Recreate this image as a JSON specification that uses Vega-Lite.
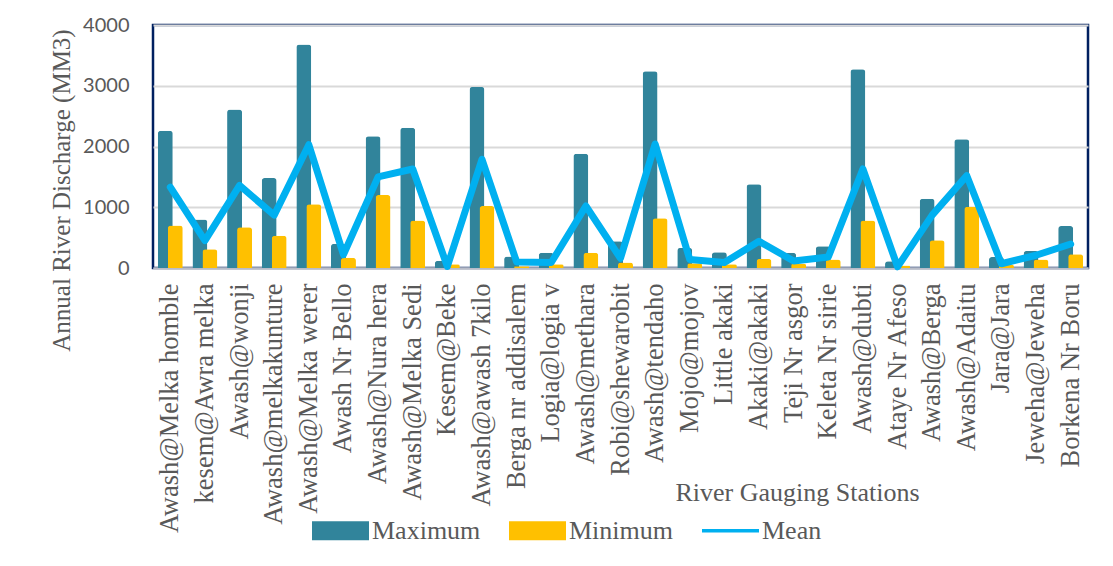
{
  "$schema": "https://vega.github.io/schema/vega-lite/v6.json",
  "autosize": "none",
  "width": 935,
  "height": 243,
  "padding": {"left": 153, "top": 25, "right": 25, "bottom": 298},
  "background": "white",
  "data": {
    "values": [
      {"station": "Awash@Melka homble", "max": 2260, "min": 700, "mean": 1330},
      {"station": "kesem@Awra melka", "max": 800, "min": 310, "mean": 450},
      {"station": "Awash@wonji", "max": 2610, "min": 670, "mean": 1360},
      {"station": "Awash@melkakunture", "max": 1480, "min": 530, "mean": 870},
      {"station": "Awash@Melka werer", "max": 3680, "min": 1050, "mean": 2030},
      {"station": "Awash Nr Bello", "max": 400, "min": 170, "mean": 220},
      {"station": "Awash@Nura hera", "max": 2170, "min": 1200, "mean": 1500},
      {"station": "Awash@Melka Sedi", "max": 2310, "min": 780, "mean": 1630},
      {"station": "Kesem@Beke", "max": 120, "min": 60, "mean": 25},
      {"station": "Awash@awash 7kilo", "max": 2980, "min": 1020, "mean": 1790},
      {"station": "Berga nr addisalem", "max": 190, "min": 30, "mean": 100},
      {"station": "Logia@logia v", "max": 250, "min": 60, "mean": 90},
      {"station": "Awash@methara", "max": 1880, "min": 250, "mean": 1020},
      {"station": "Robi@shewarobit", "max": 440, "min": 90, "mean": 160},
      {"station": "Awash@tendaho", "max": 3240, "min": 820, "mean": 2040},
      {"station": "Mojo@mojov", "max": 330, "min": 80, "mean": 140},
      {"station": "Little akaki", "max": 260, "min": 60, "mean": 90},
      {"station": "Akaki@akaki", "max": 1380, "min": 150, "mean": 440},
      {"station": "Teji Nr asgor", "max": 250, "min": 70, "mean": 115},
      {"station": "Keleta Nr sirie", "max": 360, "min": 140, "mean": 180},
      {"station": "Awash@dubti", "max": 3270, "min": 780, "mean": 1630},
      {"station": "Ataye Nr Afeso", "max": 110, "min": 40, "mean": 20},
      {"station": "Awash@Berga", "max": 1140, "min": 457, "mean": 870},
      {"station": "Awash@Adaitu", "max": 2120, "min": 1010, "mean": 1520},
      {"station": "Jara@Jara", "max": 180, "min": 50, "mean": 70},
      {"station": "Jeweha@Jeweha", "max": 280, "min": 140, "mean": 210},
      {"station": "Borkena Nr Boru", "max": 690, "min": 225, "mean": 395}
    ]
  },
  "encoding": {
    "x": {
      "field": "station",
      "type": "nominal",
      "sort": null,
      "scale": {"paddingInner": 0, "paddingOuter": 0},
      "axis": {
        "title": "River Gauging Stations",
        "titleFont": "Liberation Serif",
        "titleFontSize": 26,
        "titleFontWeight": "normal",
        "titleColor": "#595959",
        "titleX": 644,
        "titleY": 224,
        "titleAlign": "center",
        "titleBaseline": "middle",
        "labelAngle": -90,
        "labelAlign": "right",
        "labelBaseline": "middle",
        "labelFont": "Liberation Serif",
        "labelFontSize": 26.5,
        "labelColor": "#595959",
        "labelPadding": 15,
        "labelLimit": 0,
        "ticks": false,
        "domainColor": "#B8BCC8",
        "domainWidth": 2,
        "grid": false
      }
    },
    "color": {
      "datum": "Maximum",
      "scale": {
        "domain": ["Maximum", "Minimum", "Mean"],
        "range": ["#31849B", "#FFC000", "#00B0F0"]
      },
      "legend": {
        "title": null,
        "orient": "none",
        "direction": "horizontal",
        "legendX": 159,
        "legendY": 477,
        "symbolSize": 3249,
        "symbolStrokeWidth": 0,
        "labelFont": "Liberation Serif",
        "labelFontSize": 26,
        "labelColor": "#595959",
        "labelOffset": 3,
        "columnPadding": 28,
        "labelLimit": 0,
        "encode": {
          "symbols": {
            "update": {
              "shape": {"signal": "datum.value === 'Mean' ? 'M-1,-0.06H1V0.06H-1Z' : 'M-1,-0.33H1V0.33H-1Z'"},
              "fill": {"signal": "datum.value === 'Mean' ? '#00B0F0' : datum.value === 'Minimum' ? '#FFC000' : '#31849B'"},
              "stroke": {"value": "transparent"},
              "opacity": {"value": 1}
            }
          }
        }
      }
    }
  },
  "layer": [
    {
      "mark": {"type": "bar", "width": 15, "xOffset": -5, "cornerRadiusTopLeft": 3, "cornerRadiusTopRight": 3},
      "encoding": {
        "y": {
          "field": "max",
          "type": "quantitative",
          "scale": {"domain": [0, 4000], "nice": false},
          "axis": {
            "title": "Annual River Discharge (MM3)",
            "titleFont": "Liberation Serif",
            "titleFontSize": 25,
            "titleFontWeight": "normal",
            "titleColor": "#595959",
            "titleX": -92,
            "titleY": 165,
            "titleAlign": "center",
            "titleBaseline": "middle",
            "titleAngle": -90,
            "values": [0, 500, 1000, 1500, 2000, 2500, 3000, 3500, 4000],
            "format": "d",
            "labelFont": "Lato",
            "labelFontSize": 20,
            "labelColor": "#595959",
            "labelPadding": 24,
            "ticks": false,
            "domain": false,
            "grid": true,
            "gridColor": "#D9D9D9",
            "gridWidth": 2
          }
        },
        "color": {"datum": "Maximum"}
      }
    },
    {
      "mark": {"type": "bar", "width": 15, "xOffset": 5, "cornerRadiusTopLeft": 3, "cornerRadiusTopRight": 3},
      "encoding": {
        "y": {"field": "min", "type": "quantitative"},
        "color": {"datum": "Minimum"}
      }
    },
    {
      "mark": {"type": "line", "strokeWidth": 7, "strokeCap": "round", "strokeJoin": "round"},
      "encoding": {
        "y": {"field": "mean", "type": "quantitative"},
        "color": {"datum": "Mean"}
      }
    }
  ],
  "config": {
    "view": {"stroke": "#002060", "strokeWidth": 2.5}
  }
}
